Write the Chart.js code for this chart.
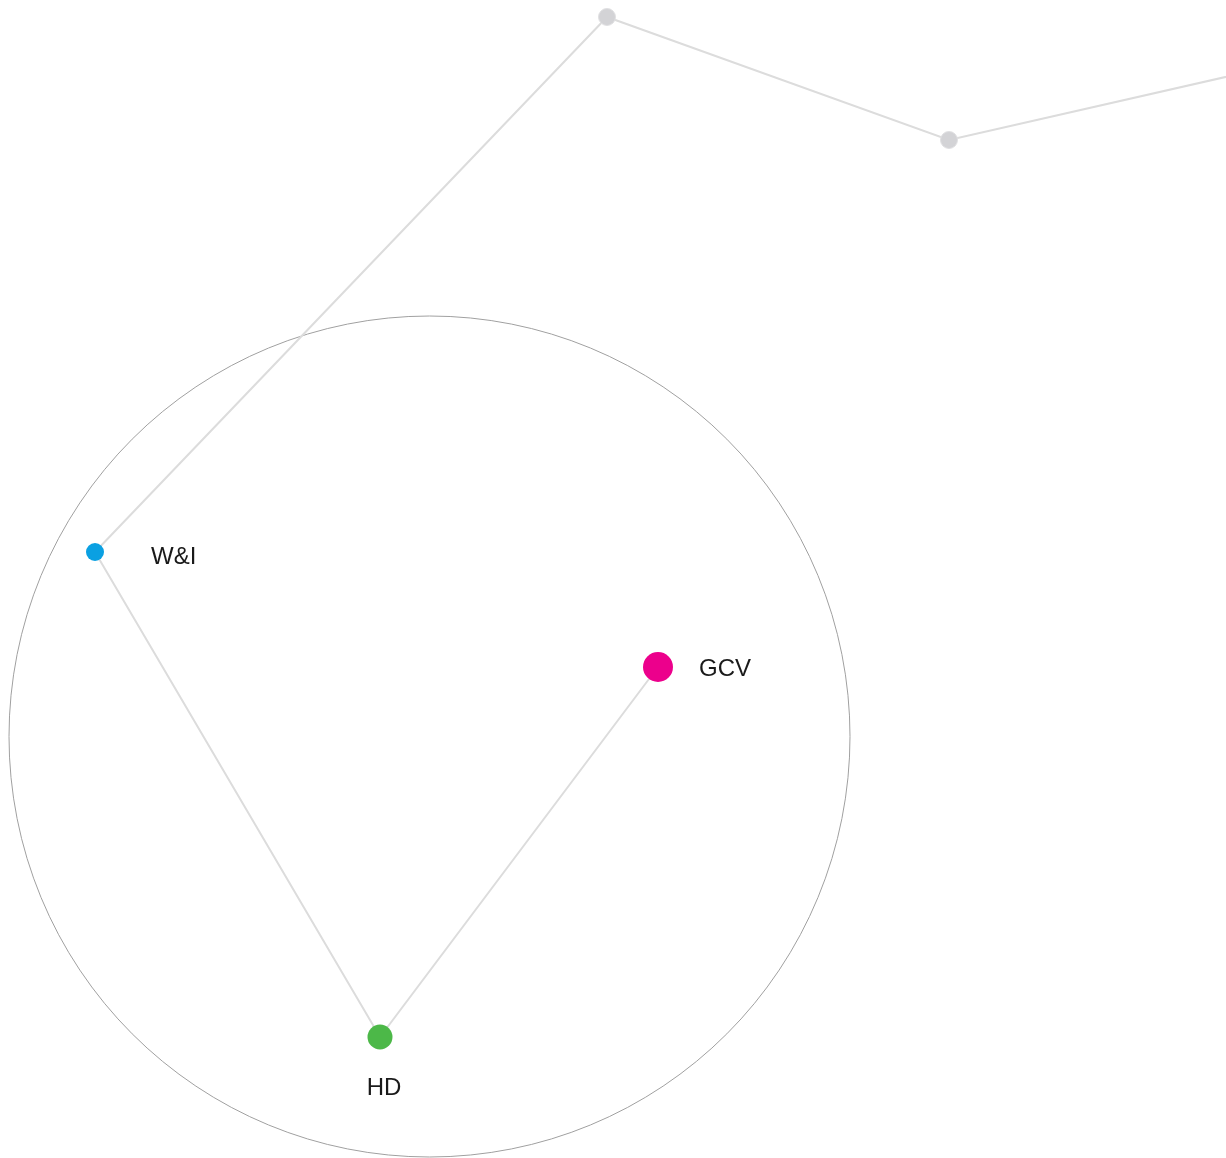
<!DOCTYPE html>
<html lang="en">
<head>
  <meta charset="UTF-8">
  <title>Network</title>
  <script src="https://cdn.jsdelivr.net/npm/chart.js"></script>
  <style>
    body { margin: 0; background: #fff; }
    canvas { display: block; }
  </style>
</head>
<body>
  <canvas id="net" width="1226" height="1158"></canvas>
  <script>
    // node names and coordinates (in a 0..1226 x 0..1158 plane, y downwards)
    const nodeNames = ['W&I', 'HD', 'GCV'];
    const nodeX = [95, 380, 658];
    const nodeY = [552, 1037, 667];
    const nodeColors = ['#0aa0e2', '#4cb848', '#ec008c'];
    const nodeSizes = [9, 12.5, 15];

    // grey path that leaves the picture at the top right
    const pathX = [95, 607, 949, 1300];
    const pathY = [552, 17, 140, 60];

    // the ring around the three nodes
    const ringX = [429.5];
    const ringY = [736.5];

    const labelOffsets = {
      'W&I': { dx: 56, dy: 5, align: 'left' },
      'GCV': { dx: 41, dy: 2, align: 'left' },
      'HD': { dx: 4, dy: 51, align: 'center' }
    };

    const labelPlugin = {
      id: 'nodeLabels',
      afterDatasetsDraw(chart) {
        const c = chart.ctx;
        const xs = chart.scales.x, ys = chart.scales.y;
        c.save();
        c.font = '24px "Liberation Sans", Arial, sans-serif';
        c.fillStyle = '#1a1a1a';
        c.textBaseline = 'middle';
        nodeNames.forEach((n, i) => {
          const o = labelOffsets[n];
          c.textAlign = o.align;
          c.fillText(n, xs.getPixelForValue(nodeX[i]) + o.dx, ys.getPixelForValue(nodeY[i]) + o.dy);
        });
        c.restore();
      }
    };

    const pts = (xs, ys) => xs.map((x, i) => ({ x: x, y: ys[i] }));
    const nodePts = pts(nodeX, nodeY);

    new Chart(document.getElementById('net'), {
      type: 'scatter',
      data: {
        datasets: [
          {
            data: pts(ringX, ringY),
            pointRadius: 420.5,
            pointHoverRadius: 420.5,
            pointBackgroundColor: 'rgba(0,0,0,0)',
            pointBorderColor: '#a0a0a0',
            pointBorderWidth: 1,
            clip: false,
            order: 5
          },
          {
            data: pts(pathX, pathY),
            showLine: true,
            borderColor: '#dcdcdc',
            borderWidth: 2,
            pointRadius: [0, 8.5, 8.5, 0],
            pointBackgroundColor: '#d3d3d6',
            pointBorderColor: '#e0e0e2',
            pointBorderWidth: 1,
            order: 3
          },
          {
            data: [nodePts[0], nodePts[1], nodePts[2]],
            showLine: true,
            borderColor: '#dcdcdc',
            borderWidth: 2,
            pointRadius: 0,
            order: 4
          },
          {
            data: nodePts,
            pointRadius: nodeSizes,
            pointHoverRadius: nodeSizes,
            pointBackgroundColor: nodeColors,
            pointBorderWidth: 0,
            clip: false,
            order: 1
          }
        ]
      },
      options: {
        responsive: false,
        animation: false,
        layout: { padding: 0, autoPadding: false },
        plugins: { legend: { display: false }, tooltip: { enabled: false } },
        scales: {
          x: { type: 'linear', min: 0, max: 1226, display: false },
          y: { type: 'linear', min: 0, max: 1158, reverse: true, display: false }
        }
      },
      plugins: [labelPlugin]
    });
  </script>
</body>
</html>
